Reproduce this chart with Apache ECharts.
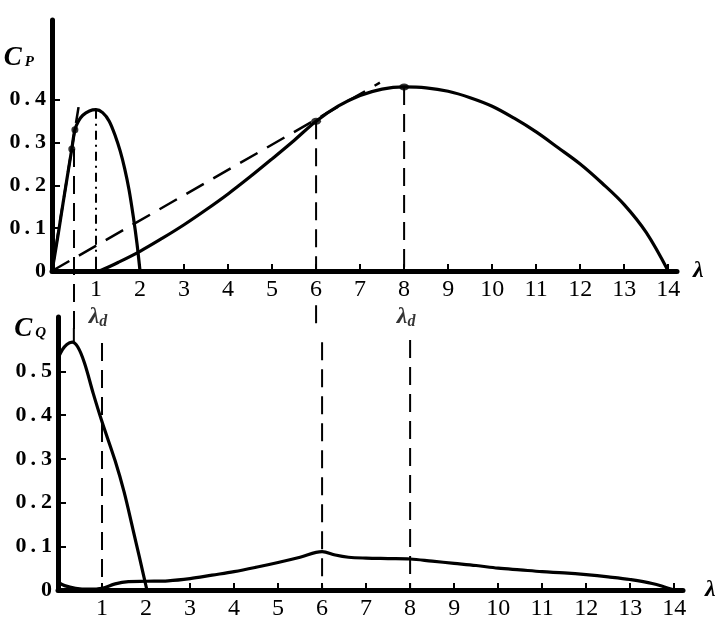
<!DOCTYPE html>
<html>
<head>
<meta charset="utf-8">
<script src="https://cdn.jsdelivr.net/npm/echarts@6/dist/echarts.min.js"></script>
<style>html,body{margin:0;padding:0;background:#fff;}#c{width:723px;height:631px;}</style>
</head>
<body>
<div id="c"></div>
<script>
// ---- tick labels ----
const lambdaTicks = [1,2,3,4,5,6,7,8,9,10,11,12,13,14];
const cpTicks = [0,0.1,0.2,0.3,0.4];
const cqTicks = [0,0.1,0.2,0.3,0.4,0.5];

// ---- Cp curves (top) ----
const cpLow = [[0,0],[0.1,0.06],[0.2,0.125],[0.3,0.19],[0.45,0.285],[0.52,0.33],[0.6,0.35],[0.7,0.364],[0.85,0.374],[1.0,0.377],[1.15,0.37],[1.3,0.35],[1.45,0.312],[1.55,0.28],[1.65,0.24],[1.75,0.19],[1.85,0.125],[1.93,0.065],[2.0,0]];
const cpHigh = [[1.08,0],[1.5,0.02],[2,0.046],[2.5,0.076],[3,0.108],[3.5,0.143],[4,0.18],[4.5,0.22],[5,0.262],[5.5,0.305],[6,0.35],[6.5,0.385],[7,0.41],[7.5,0.425],[8,0.43],[8.5,0.428],[9,0.42],[9.5,0.405],[10,0.385],[10.5,0.357],[11,0.325],[11.5,0.288],[12,0.25],[12.5,0.205],[13,0.155],[13.5,0.09],[14,0]];
const tangentLow = [[0,0],[0.63,0.40]];
const tangentHigh = [[0,0],[7.45,0.44]];
const dotsLow = [[0.45,0.285],[0.52,0.33]];
const dotsHigh = [[6,0.35],[8,0.43]];

// ---- Cq curves (bottom) ----
const cqLow = [[0,0.53],[0.1,0.55],[0.2,0.562],[0.32,0.567],[0.45,0.556],[0.6,0.52],[0.8,0.45],[1.0,0.385],[1.3,0.295],[1.5,0.225],[1.7,0.14],[1.85,0.075],[2.02,0]];
const cqHigh = [[0,0.018],[0.15,0.01],[0.4,0.004],[0.7,0.002],[1.0,0.004],[1.3,0.014],[1.6,0.019],[2.0,0.02],[2.5,0.021],[3.0,0.026],[3.5,0.034],[4,0.042],[4.5,0.052],[5,0.063],[5.5,0.075],[6,0.088],[6.3,0.08],[6.6,0.075],[7,0.073],[7.5,0.072],[8,0.071],[8.5,0.066],[9,0.061],[9.5,0.056],[10,0.05],[10.5,0.046],[11,0.042],[11.5,0.039],[12,0.035],[12.5,0.03],[13,0.024],[13.5,0.015],[14,0]];

// ---- guide lines ----
const topDashedGuides = [ [[0.5,0.285],[0.5,-0.14]], [[6,0.35],[6,0]], [[6,-0.08],[6,-0.13]], [[8,0.43],[8,0]] ];
const topPeakGuide = [[1,0.377],[1,0]];
const bottomDashedGuides = [ [[1,0.565],[1,0]], [[6,0.567],[6,0]], [[8,0.572],[8,0]] ];
const bottomPeakTick = [[0.36,0.567],[0.36,0.6]];
const designPoints = [[1,0],[8,0]];

const FONT = "'Liberation Serif','DejaVu Serif',serif";
const chart = echarts.init(document.getElementById('c'), null, {renderer:'canvas'});

function yLabelFmt(v){
  const s = String(+v.toFixed(1));
  if (s.indexOf('.') < 0) return '{d|' + s + '}';
  const p = s.split('.');
  return '{d|' + p[0] + '}{p|.}{d|' + p[1] + '}';
}
const yRich = {
  d:{fontFamily:FONT,fontSize:22,fontWeight:'bold',color:'#000'},
  p:{fontFamily:FONT,fontSize:22,fontWeight:'bold',color:'#000',padding:[0,5,0,4]}
};
function xAxisCfg(grid, max, nameGap, namePad){
  return {
    gridIndex:grid, type:'value', min:0, max:max,
    name:'λ', nameLocation:'end', nameGap:nameGap,
    nameTextStyle:{fontFamily:FONT,fontSize:24,fontStyle:'italic',fontWeight:'bold',color:'#000',verticalAlign:'middle',padding:namePad},
    axisLine:{show:true,onZero:false,lineStyle:{color:'#000',width:5}},
    axisTick:{show:true,inside:true,length:7,lineStyle:{color:'#000',width:2},customValues:lambdaTicks},
    axisLabel:{show:true,customValues:lambdaTicks,fontFamily:FONT,fontSize:24,color:'#000',margin:7},
    splitLine:{show:false}
  };
}
function yAxisCfg(grid, max, ticks, nameRich, nameGap, padRight){
  return {
    gridIndex:grid, type:'value', min:0, max:max,
    name:nameRich, nameLocation:'end', nameGap:nameGap,
    nameTextStyle:{align:'right',verticalAlign:'middle',padding:[0,padRight,0,0],
      rich:{c:{fontFamily:FONT,fontSize:27,fontStyle:'italic',fontWeight:'bold',color:'#000'},
            s:{fontFamily:FONT,fontSize:15,fontStyle:'italic',fontWeight:'bold',color:'#000',padding:[8,0,0,3]}}},
    axisLine:{show:true,onZero:false,lineStyle:{color:'#000',width:5}},
    axisTick:{show:true,inside:true,length:8,lineStyle:{color:'#000',width:2},customValues:ticks.filter(v=>v>0)},
    axisLabel:{show:true,customValues:ticks,margin:6,formatter:yLabelFmt,rich:yRich},
    splitLine:{show:false}
  };
}
function curve(xi, data, width){
  return {type:'line',xAxisIndex:xi,yAxisIndex:xi,data:data,showSymbol:false,smooth:0.35,clip:false,
    lineStyle:{color:'#000',width:width||3.2},z:5};
}
function dashed(xi, data, dash, width){
  return {type:'line',xAxisIndex:xi,yAxisIndex:xi,data:data,showSymbol:false,clip:false,
    lineStyle:{color:'#000',width:width||2,type:dash},z:4};
}

const series = [
  curve(0, cpLow), curve(0, cpHigh),
  dashed(0, tangentLow, [16,9], 2.5), dashed(0, tangentHigh, [20,11], 2.5),
  dashed(0, topPeakGuide, [9,5,2,5], 2),
  {type:'scatter',xAxisIndex:0,yAxisIndex:0,data:dotsLow,symbolSize:7,itemStyle:{color:'#000'},z:6},
  {type:'scatter',xAxisIndex:0,yAxisIndex:0,data:dotsHigh,symbolSize:[10,7],itemStyle:{color:'#000'},z:6},
  curve(1, cqLow), curve(1, cqHigh),
  {type:'line',xAxisIndex:1,yAxisIndex:1,data:bottomPeakTick,showSymbol:false,clip:false,lineStyle:{color:'#000',width:2},z:4},
  {type:'scatter',xAxisIndex:0,yAxisIndex:0,data:designPoints,symbolSize:0,itemStyle:{color:'rgba(0,0,0,0)'},
    label:{show:true,position:'inside',offset:[2,46],formatter:'{l|λ}{d|d}',
      rich:{l:{fontFamily:FONT,fontSize:24,fontStyle:'italic',fontWeight:'bold',color:'#000'},
            d:{fontFamily:FONT,fontSize:16,fontStyle:'italic',fontWeight:'bold',color:'#000',padding:[10,0,0,0]}}},z:7}
];
topDashedGuides.forEach(g => series.push(dashed(0, g, [18,9], 2)));
bottomDashedGuides.forEach(g => series.push(dashed(1, g, [18,9], 2)));

chart.setOption({
  animation:false,
  backgroundColor:'#fff',
  grid:[{left:52,top:20,width:625,height:251},{left:58,top:317,width:625,height:273}],
  xAxis:[xAxisCfg(0,14.2,16,[0,0,0,0]), xAxisCfg(1,14.2,22,[14,0,0,0])],
  yAxis:[yAxisCfg(0,251/428,cpTicks,'{c|C}{s|P}',-38,18), yAxisCfg(1,273/437,cqTicks,'{c|C}{s|Q}',-12,12)],
  series:series
});
</script>
</body>
</html>
